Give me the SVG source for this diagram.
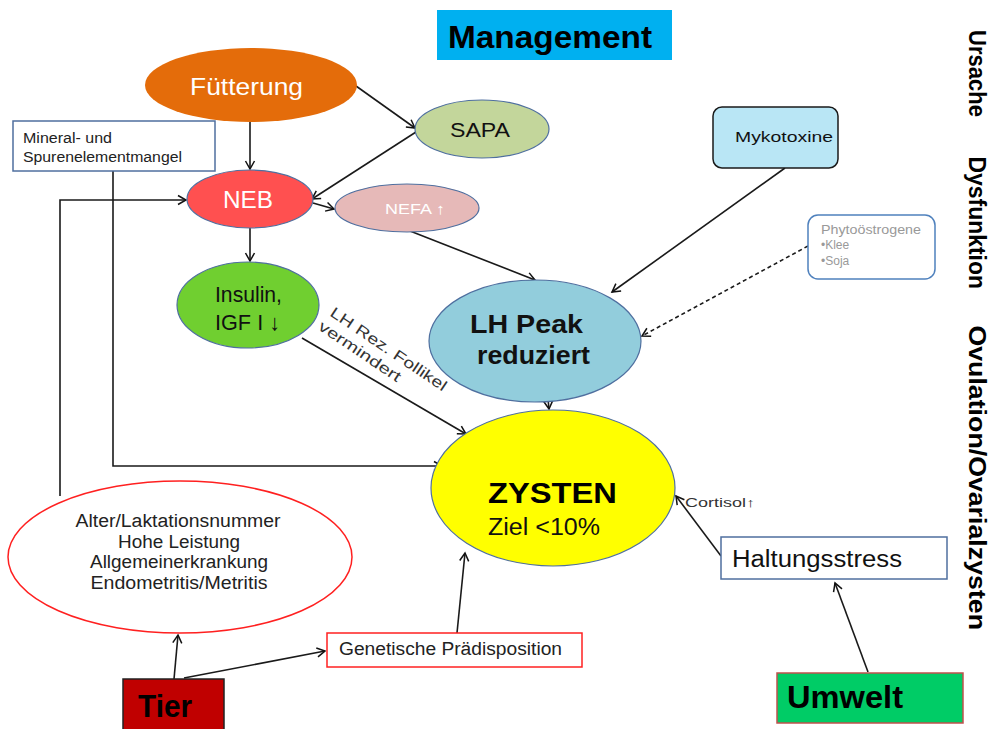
<svg xmlns="http://www.w3.org/2000/svg" width="994" height="729" viewBox="0 0 994 729">
<defs>
<marker id="a" markerWidth="12" markerHeight="12" refX="10" refY="6" orient="auto" markerUnits="userSpaceOnUse">
<path d="M2,1.5 L10,6 L2,10.5" fill="none" stroke="#111" stroke-width="1.5"/>
</marker>
<style>
text{font-family:"Liberation Sans",Arial,sans-serif;}
.c{stroke:#1a1a1a;stroke-width:1.6;fill:none;marker-end:url(#a);}
.b{font-weight:bold;}
.m{text-anchor:middle;}
</style>
</defs>
<rect width="994" height="729" fill="#fff"/>

<g id="management">
<rect x="437" y="10" width="235" height="50" fill="#00b0f0"/>
<text x="448" y="48" class="b" font-size="31" textLength="204" lengthAdjust="spacingAndGlyphs" fill="#000">Management</text>
</g>

<g id="title">
<text transform="translate(969,0) rotate(90)" class="b" font-size="24" fill="#000"><tspan x="30" textLength="87" lengthAdjust="spacingAndGlyphs">Ursache</tspan><tspan x="150" textLength="139" lengthAdjust="spacingAndGlyphs"> Dysfunktion</tspan><tspan x="318" textLength="312" lengthAdjust="spacingAndGlyphs"> Ovulation/Ovarialzysten</tspan></text>
</g>

<g id="connectors">
<line class="c" x1="250" y1="122" x2="250" y2="169"/>
<line class="c" x1="356" y1="86" x2="415" y2="128"/>
<line class="c" x1="416" y1="132" x2="312" y2="199"/>
<line class="c" x1="313" y1="203" x2="334" y2="209"/>
<line class="c" x1="250" y1="228" x2="250" y2="261"/>
<line class="c" x1="410" y1="231" x2="535" y2="280"/>
<line class="c" x1="785" y1="168" x2="612" y2="292"/>
<line class="c" x1="808" y1="246" x2="642" y2="336" stroke-dasharray="4,3"/>
<line class="c" x1="302" y1="338" x2="466" y2="434"/>
<line class="c" x1="548" y1="399" x2="549" y2="409"/>
<polyline class="c" points="113,171 113,466 442,466"/>
<polyline class="c" points="60,496 60,200 186,200"/>
<line class="c" x1="174" y1="679" x2="178" y2="635"/>
<line class="c" x1="184" y1="678" x2="325" y2="651"/>
<line class="c" x1="457" y1="633" x2="465" y2="553"/>
<line class="c" x1="721" y1="556" x2="676" y2="496"/>
<line class="c" x1="868" y1="672" x2="835" y2="583"/>
<text x="685" y="507" font-size="13" fill="#333" textLength="70" lengthAdjust="spacingAndGlyphs">Cortisol↑</text>
<g transform="translate(329,315) rotate(34)" fill="#333" font-size="15">
<text x="0" y="0" textLength="137" lengthAdjust="spacingAndGlyphs">LH Rez. Follikel</text>
<text x="-2" y="18" textLength="96" lengthAdjust="spacingAndGlyphs">vermindert</text>
</g>
</g>

<g id="fuetterung">
<ellipse cx="251" cy="85" rx="106" ry="37" fill="#e46c0a"/>
<text x="190" y="95" font-size="24" fill="#fff" textLength="113" lengthAdjust="spacingAndGlyphs">Fütterung</text>
</g>

<g id="sapa">
<ellipse cx="482" cy="129" rx="67" ry="29" fill="#c3d69b" stroke="#4f6f9f" stroke-width="1.2"/>
<text x="450" y="137" font-size="21" fill="#111" textLength="60" lengthAdjust="spacingAndGlyphs">SAPA</text>
</g>

<g id="mineral">
<rect x="13" y="121" width="202" height="50" fill="#fff" stroke="#4f6f9f" stroke-width="1.5"/>
<text x="23" y="143" font-size="14" fill="#222" textLength="89" lengthAdjust="spacingAndGlyphs">Mineral- und</text>
<text x="23" y="162" font-size="14" fill="#222" textLength="159" lengthAdjust="spacingAndGlyphs">Spurenelementmangel</text>
</g>

<g id="neb">
<ellipse cx="250" cy="199" rx="63" ry="29" fill="#ff5050" stroke="#4f6f9f" stroke-width="1.2"/>
<text x="223" y="208" font-size="23" fill="#fff" textLength="50" lengthAdjust="spacingAndGlyphs">NEB</text>
</g>

<g id="nefa">
<ellipse cx="407" cy="208" rx="72" ry="24" fill="#e6b9b8" stroke="#4f6f9f" stroke-width="1.2"/>
<text x="385" y="214" font-size="15" fill="#fff" textLength="60" lengthAdjust="spacingAndGlyphs">NEFA ↑</text>
</g>

<g id="insulin">
<ellipse cx="248" cy="305" rx="71" ry="43" fill="#70cf30" stroke="#4f6f9f" stroke-width="1.2"/>
<text x="215" y="302" font-size="22" fill="#111" textLength="67" lengthAdjust="spacingAndGlyphs">Insulin,</text>
<text x="215" y="330" font-size="22" fill="#111" textLength="65" lengthAdjust="spacingAndGlyphs">IGF I ↓</text>
</g>

<g id="mykotoxine">
<rect x="713" y="107" width="125" height="61" rx="9" fill="#b9e6f5" stroke="#1a1a1a" stroke-width="1.5"/>
<text x="735" y="142" font-size="15" fill="#111" textLength="98" lengthAdjust="spacingAndGlyphs">Mykotoxine</text>
</g>

<g id="phyto">
<rect x="808" y="215" width="127" height="64" rx="10" fill="#fff" stroke="#4f81bd" stroke-width="1.5"/>
<text x="821" y="234" font-size="12" fill="#999" textLength="100" lengthAdjust="spacingAndGlyphs">Phytoöstrogene</text>
<text x="821" y="249" font-size="12" fill="#999">•Klee</text>
<text x="821" y="265" font-size="12" fill="#999">•Soja</text>
</g>

<g id="lhpeak">
<ellipse cx="535" cy="341" rx="106" ry="61" fill="#92cddc" stroke="#4f6f9f" stroke-width="1.2"/>
<text x="470" y="333" class="b" font-size="25" fill="#111" textLength="113" lengthAdjust="spacingAndGlyphs">LH Peak</text>
<text x="477" y="364" class="b" font-size="25" fill="#111" textLength="113" lengthAdjust="spacingAndGlyphs">reduziert</text>
</g>

<g id="zysten">
<ellipse cx="553" cy="488" rx="122" ry="78" fill="#ffff00" stroke="#4f6f9f" stroke-width="1.2"/>
<text x="488" y="503" class="b" font-size="30" fill="#000" textLength="129" lengthAdjust="spacingAndGlyphs">ZYSTEN</text>
<text x="488" y="535" font-size="23" fill="#111" textLength="112" lengthAdjust="spacingAndGlyphs">Ziel &lt;10%</text>
</g>

<g id="alter">
<ellipse cx="180" cy="557" rx="172" ry="76" fill="#fff" stroke="#ff2020" stroke-width="1.5"/>
<g font-size="18" fill="#222">
<text x="178" y="527" class="m" textLength="205" lengthAdjust="spacingAndGlyphs">Alter/Laktationsnummer</text>
<text x="179" y="548" class="m" textLength="122" lengthAdjust="spacingAndGlyphs">Hohe Leistung</text>
<text x="179" y="568" class="m" textLength="178" lengthAdjust="spacingAndGlyphs">Allgemeinerkrankung</text>
<text x="179" y="589" class="m" textLength="177" lengthAdjust="spacingAndGlyphs">Endometritis/Metritis</text>
</g>
</g>

<g id="genetische">
<rect x="327" y="633" width="255" height="34" fill="#fff" stroke="#ff2020" stroke-width="1.5"/>
<text x="339" y="655" font-size="18" fill="#222" textLength="223" lengthAdjust="spacingAndGlyphs">Genetische Prädisposition</text>
</g>

<g id="tier">
<rect x="123" y="679" width="101" height="55" fill="#c00000" stroke="#222" stroke-width="1.5"/>
<text x="138" y="717" class="b" font-size="32" fill="#000" textLength="54" lengthAdjust="spacingAndGlyphs">Tier</text>
</g>

<g id="haltungsstress">
<rect x="721" y="537" width="226" height="42" fill="#fff" stroke="#4f6f9f" stroke-width="1.5"/>
<text x="732" y="567" font-size="23" fill="#111" textLength="170" lengthAdjust="spacingAndGlyphs">Haltungsstress</text>
</g>

<g id="umwelt">
<rect x="777" y="673" width="186" height="50" fill="#00cc66" stroke="#c0504d" stroke-width="1.5"/>
<text x="787" y="708" class="b" font-size="32" fill="#000" textLength="116" lengthAdjust="spacingAndGlyphs">Umwelt</text>
</g>
</svg>
